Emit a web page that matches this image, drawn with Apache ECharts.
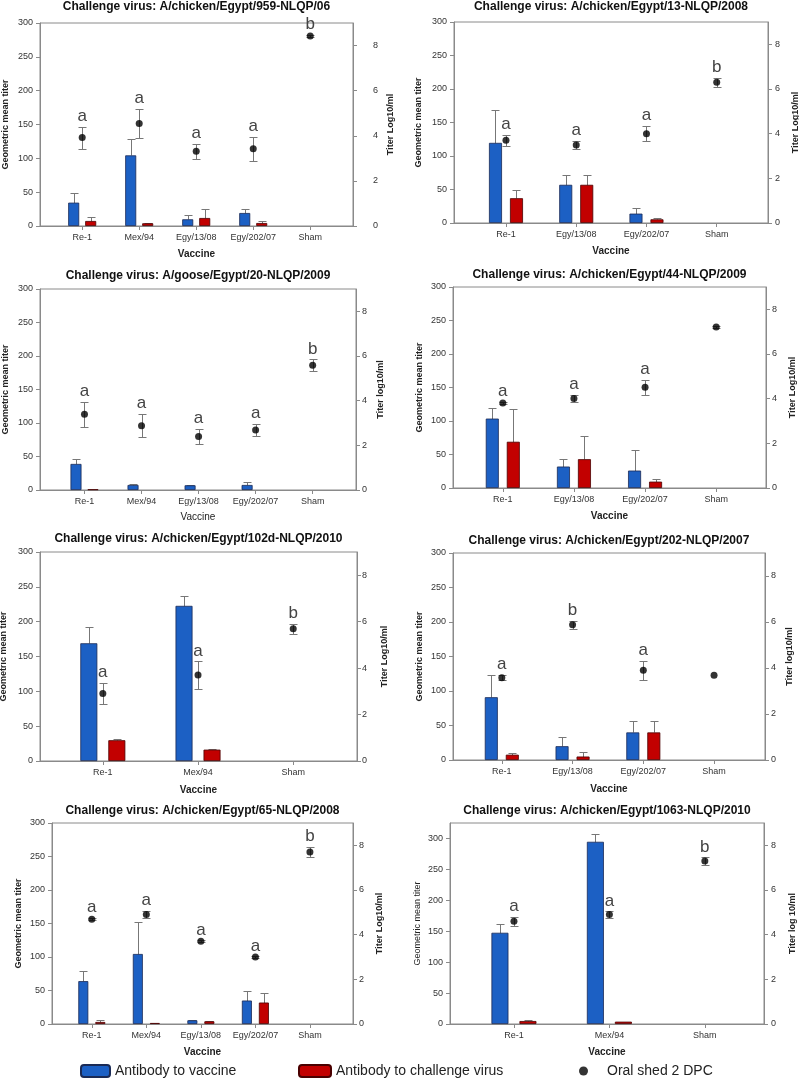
<!DOCTYPE html>
<html><head><meta charset="utf-8">
<script src="https://cdn.jsdelivr.net/npm/echarts@6/dist/echarts.min.js"></script>
<style>html,body{margin:0;padding:0;background:#fff}#c{width:799px;height:1081px}</style>
</head><body><div id="c"></div>
<script>
// ---------------- DATA ----------------
const leftTicks = [0, 50, 100, 150, 200, 250, 300];
const rightTicks = [0, 2, 4, 6, 8];
const legendNames = ['Antibody to vaccine', 'Antibody to challenge virus', 'Oral shed 2 DPC'];

const p1Title = 'Challenge virus: A/chicken/Egypt/959-NLQP/06';
const p1Categories = ['Re-1', 'Mex/94', 'Egy/13/08', 'Egy/202/07', 'Sham'];
const p1Vaccine = [34.5, 104.4, 9.9, 19.2, 0];
const p1VaccineErr = [14.5, 24.6, 5.9, 6.4, 0];
const p1Challenge = [7.4, 4, 11.8, 4.4, 0];
const p1ChallengeErr = [5.9, 1, 13.8, 2.5, 0];
const p1Shed = [3.92, 4.54, 3.31, 3.42, 8.42];
const p1ShedErr = [0.49, 0.64, 0.34, 0.52, 0.05];
const p1Letters = ['a', 'a', 'a', 'a', 'b'];

const p2Title = 'Challenge virus: A/chicken/Egypt/13-NLQP/2008';
const p2Categories = ['Re-1', 'Egy/13/08', 'Egy/202/07', 'Sham'];
const p2Vaccine = [119.6, 57, 14, 0];
const p2VaccineErr = [48.4, 14, 8, 0];
const p2Challenge = [37, 57, 5.5, 0];
const p2ChallengeErr = [12, 14, 1.5, 0];
const p2Shed = [3.70, 3.49, 4.00, 6.30];
const p2ShedErr = [0.25, 0.18, 0.35, 0.21];
const p2Letters = ['a', 'a', 'a', 'b'];

const p3Title = 'Challenge virus: A/goose/Egypt/20-NLQP/2009';
const p3Categories = ['Re-1', 'Mex/94', 'Egy/13/08', 'Egy/202/07', 'Sham'];
const p3Vaccine = [38.9, 7.5, 7, 7.5, 0];
const p3VaccineErr = [6.9, 1, 0.5, 4, 0];
const p3Challenge = [1, 0, 0, 0, 0];
const p3ChallengeErr = [0, 0, 0, 0, 0];
const p3Shed = [3.39, 2.88, 2.39, 2.69, 5.59];
const p3ShedErr = [0.55, 0.52, 0.34, 0.28, 0.26];
const p3Letters = ['a', 'a', 'a', 'a', 'b'];

const p4Title = 'Challenge virus: A/chicken/Egypt/44-NLQP/2009';
const p4Categories = ['Re-1', 'Egy/13/08', 'Egy/202/07', 'Sham'];
const p4Vaccine = [103.6, 32, 26, 0];
const p4VaccineErr = [16, 12, 30, 0];
const p4Challenge = [69, 43, 9.5, 0];
const p4ChallengeErr = [49, 35, 4.5, 0];
const p4Shed = [3.81, 4.01, 4.51, 7.21];
const p4ShedErr = [0.06, 0.17, 0.34, 0.05];
const p4Letters = ['a', 'a', 'a', ''];

const p5Title = 'Challenge virus: A/chicken/Egypt/102d-NLQP/2010';
const p5Categories = ['Re-1', 'Mex/94', 'Sham'];
const p5Vaccine = [169, 222.7, 0];
const p5VaccineErr = [24, 14.3, 0];
const p5Challenge = [29.8, 16.3, 0];
const p5ChallengeErr = [2.2, 0.7, 0];
const p5Shed = [2.91, 3.70, 5.69];
const p5ShedErr = [0.45, 0.59, 0.21];
const p5Letters = ['a', 'a', 'b'];

const p6Title = 'Challenge virus: A/chicken/Egypt/202-NLQP/2007';
const p6Categories = ['Re-1', 'Egy/13/08', 'Egy/202/07', 'Sham'];
const p6Vaccine = [91, 20, 40, 0];
const p6VaccineErr = [32, 14, 17, 0];
const p6Challenge = [7.7, 5, 40, 0];
const p6ChallengeErr = [2.3, 7, 17, 0];
const p6Shed = [3.58, 5.88, 3.90, 3.68];
const p6ShedErr = [0.12, 0.17, 0.40, 0];
const p6Letters = ['a', 'b', 'a', ''];

const p7Title = 'Challenge virus: A/chicken/Egypt/65-NLQP/2008';
const p7Categories = ['Re-1', 'Mex/94', 'Egy/13/08', 'Egy/202/07', 'Sham'];
const p7Vaccine = [64, 104.5, 5.5, 35, 0];
const p7VaccineErr = [14.6, 47.5, 0.3, 14, 0];
const p7Challenge = [3, 1.5, 4, 32, 0];
const p7ChallengeErr = [3, 0, 1, 14, 0];
const p7Shed = [4.69, 4.90, 3.70, 3.00, 7.70];
const p7ShedErr = [0.05, 0.15, 0.04, 0.03, 0.22];
const p7Letters = ['a', 'a', 'a', 'a', 'b'];

const p8Title = 'Challenge virus: A/chicken/Egypt/1063-NLQP/2010';
const p8Categories = ['Re-1', 'Mex/94', 'Sham'];
const p8Vaccine = [147.5, 294.6, 0];
const p8VaccineErr = [13.5, 13.4, 0];
const p8Challenge = [4.8, 3.8, 0];
const p8ChallengeErr = [1.7, 0, 0];
const p8Shed = [4.60, 4.90, 7.30];
const p8ShedErr = [0.19, 0.14, 0.16];
const p8Letters = ['a', 'a', 'b'];

// ---------------- PANEL SETUP (layout/style) ----------------
const FONT = '"Liberation Sans", Arial, sans-serif';
const AXIS = '#8a8a8a';
const LABEL = '#333';
const ERR = '#777';
const BLUE = '#1c60c4';
const RED = '#c20000';

const panels = [
  {title: p1Title, cats: p1Categories, vac: p1Vaccine, vacErr: p1VaccineErr, ch: p1Challenge, chErr: p1ChallengeErr, shed: p1Shed, shedErr: p1ShedErr, letters: p1Letters,
   leftMax: 300, leftName: 'Geometric mean titer', leftBold: true, rightName: 'Titer Log10/ml', xBold: true,
   L: {left: 40, top: 23, width: 313, height: 203, padL: 0.74, padR: 0.75, rM: 20, rNG: 33, lNG: 30, xNG: 23, bw: 11, gap: 6, ty: 7}},
  {title: p2Title, cats: p2Categories, vac: p2Vaccine, vacErr: p2VaccineErr, ch: p2Challenge, chErr: p2ChallengeErr, shed: p2Shed, shedErr: p2ShedErr, letters: p2Letters,
   leftMax: 300, leftName: 'Geometric mean titer', leftBold: true, rightName: 'Titer Log10/ml', xBold: true,
   L: {left: 454, top: 22, width: 314, height: 201, padL: 0.74, padR: 0.73, rM: 7, rNG: 23, lNG: 31, xNG: 23, bw: 13, gap: 8, ty: 7}},
  {title: p3Title, cats: p3Categories, vac: p3Vaccine, vacErr: p3VaccineErr, ch: p3Challenge, chErr: p3ChallengeErr, shed: p3Shed, shedErr: p3ShedErr, letters: p3Letters,
   leftMax: 300, leftName: 'Geometric mean titer', leftBold: true, rightName: 'Titer log10/ml', xBold: false,
   L: {left: 40, top: 289, width: 316, height: 201, padL: 0.78, padR: 0.76, rM: 6, rNG: 20, lNG: 30, xNG: 22, bw: 11, gap: 6, ty: 276}},
  {title: p4Title, cats: p4Categories, vac: p4Vaccine, vacErr: p4VaccineErr, ch: p4Challenge, chErr: p4ChallengeErr, shed: p4Shed, shedErr: p4ShedErr, letters: p4Letters,
   leftMax: 300, leftName: 'Geometric mean titer', leftBold: true, rightName: 'Titer Log10/ml', xBold: true,
   L: {left: 453, top: 287, width: 313, height: 201, padL: 0.70, padR: 0.70, rM: 6, rNG: 22, lNG: 29, xNG: 23, bw: 13, gap: 8, ty: 275}},
  {title: p5Title, cats: p5Categories, vac: p5Vaccine, vacErr: p5VaccineErr, ch: p5Challenge, chErr: p5ChallengeErr, shed: p5Shed, shedErr: p5ShedErr, letters: p5Letters,
   leftMax: 300, leftName: 'Geometric mean titer', leftBold: true, rightName: 'Titer Log10/ml', xBold: true,
   L: {left: 40, top: 552, width: 317, height: 209, padL: 0.66, padR: 0.67, rM: 5, rNG: 23, lNG: 32, xNG: 24, bw: 17, gap: 11, ty: 539}},
  {title: p6Title, cats: p6Categories, vac: p6Vaccine, vacErr: p6VaccineErr, ch: p6Challenge, chErr: p6ChallengeErr, shed: p6Shed, shedErr: p6ShedErr, letters: p6Letters,
   leftMax: 300, leftName: 'Geometric mean titer', leftBold: true, rightName: 'Titer log10/ml', xBold: true,
   L: {left: 453, top: 553, width: 312, height: 207, padL: 0.69, padR: 0.72, rM: 6, rNG: 20, lNG: 29, xNG: 24, bw: 13, gap: 8, ty: 541}},
  {title: p7Title, cats: p7Categories, vac: p7Vaccine, vacErr: p7VaccineErr, ch: p7Challenge, chErr: p7ChallengeErr, shed: p7Shed, shedErr: p7ShedErr, letters: p7Letters,
   leftMax: 300, leftName: 'Geometric mean titer', leftBold: true, rightName: 'Titer Log10/ml', xBold: true,
   L: {left: 52, top: 823, width: 301, height: 201, padL: 0.73, padR: 0.79, rM: 6, rNG: 22, lNG: 29, xNG: 23, bw: 10, gap: 7, ty: 811}},
  {title: p8Title, cats: p8Categories, vac: p8Vaccine, vacErr: p8VaccineErr, ch: p8Challenge, chErr: p8ChallengeErr, shed: p8Shed, shedErr: p8ShedErr, letters: p8Letters,
   leftMax: 325, leftName: 'Geometric mean titer', leftBold: false, rightName: 'Titer log 10/ml', xBold: true,
   L: {left: 450, top: 823, width: 314, height: 201, padL: 0.67, padR: 0.62, rM: 7, rNG: 24, lNG: 28, xNG: 23, bw: 17, gap: 11, ty: 811}}
];

function errRender(offset, both) {
  const cap = 8;
  return function (params, api) {
    const x = api.value(0), v = api.value(1), e = api.value(2);
    const c = api.coord([x, v]);
    const t = api.coord([x, v + e]);
    const b = both ? api.coord([x, v - e]) : c;
    const cx = Math.round(c[0] + offset) + 0.5;
    const ty = Math.round(t[1]) + 0.5, by = Math.round(b[1]) + 0.5;
    const ch = [
      {type: 'line', shape: {x1: cx, y1: by, x2: cx, y2: ty}, style: {stroke: ERR, lineWidth: 1}},
      {type: 'line', shape: {x1: cx - cap / 2, y1: ty, x2: cx + cap / 2, y2: ty}, style: {stroke: ERR, lineWidth: 1}}
    ];
    if (both) ch.push({type: 'line', shape: {x1: cx - cap / 2, y1: by, x2: cx + cap / 2, y2: by}, style: {stroke: ERR, lineWidth: 1}});
    return {type: 'group', children: ch};
  };
}

const option = {
  animation: false,
  backgroundColor: '#fff',
  textStyle: {fontFamily: FONT},
  title: [], grid: [], xAxis: [], yAxis: [], series: [],
  legend: [
    {data: [legendNames[0]], left: 80, top: 1064, padding: 0, itemWidth: 29, itemHeight: 12, itemGap: 6,
     textStyle: {fontSize: 14, color: '#222', fontFamily: FONT}},
    {data: [legendNames[1]], left: 298, top: 1064, padding: 0, itemWidth: 32, itemHeight: 12,
     textStyle: {fontSize: 14, color: '#222', fontFamily: FONT}},
    {data: [legendNames[2]], left: 579, top: 1064, padding: 0, itemWidth: 9, itemHeight: 9, icon: 'circle',
     textStyle: {fontSize: 14, color: '#222', fontFamily: FONT, padding: [0, 0, 0, 14]}}
  ]
};

panels.forEach((p, i) => {
  const L = p.L;
  const n = p.cats.length;
  const idx = p.cats.map((c, k) => k);
  option.title.push({
    text: p.title, left: L.left + L.width / 2, top: Math.max(1, L.ty - 6), textAlign: 'center', padding: 0,
    textStyle: {fontSize: 12, fontWeight: 'bold', color: '#111', fontFamily: FONT}
  });
  option.grid.push({left: L.left, top: L.top, width: L.width, height: L.height, show: true,
    borderColor: AXIS, borderWidth: 1, containLabel: false, outerBoundsMode: 'none'});
  option.xAxis.push({
    type: 'value', gridIndex: i, min: -L.padL, max: n - 1 + L.padR,
    name: 'Vaccine', nameLocation: 'middle', nameGap: L.xNG,
    nameTextStyle: {fontSize: 10, fontWeight: p.xBold ? 'bold' : 'normal', color: '#222'},
    axisLine: {show: true, onZero: false, lineStyle: {color: AXIS}},
    axisTick: {show: true, customValues: idx, length: 4, lineStyle: {color: AXIS}},
    axisLabel: {customValues: idx, formatter: v => p.cats[Math.round(v)] || '', margin: 7, fontSize: 9, color: LABEL},
    splitLine: {show: false}
  });
  option.yAxis.push({
    type: 'value', gridIndex: i, position: 'left', min: 0, max: p.leftMax,
    name: p.leftName, nameLocation: 'middle', nameRotate: 90, nameGap: L.lNG,
    nameTextStyle: {fontSize: 9, fontWeight: p.leftBold ? 'bold' : 'normal', color: '#222'},
    axisLine: {show: true, onZero: false, lineStyle: {color: AXIS}},
    axisTick: {show: true, customValues: leftTicks, length: 4, lineStyle: {color: AXIS}},
    axisLabel: {customValues: leftTicks, margin: 7, fontSize: 9, color: LABEL},
    splitLine: {show: false}
  });
  option.yAxis.push({
    type: 'value', gridIndex: i, position: 'right', min: 0, max: 9,
    name: p.rightName, nameLocation: 'middle', nameRotate: 90, nameGap: L.rNG,
    nameTextStyle: {fontSize: 9, fontWeight: 'bold', color: '#222'},
    axisLine: {show: true, onZero: false, lineStyle: {color: AXIS}},
    axisTick: {show: true, customValues: rightTicks, length: 4, lineStyle: {color: AXIS}},
    axisLabel: {customValues: rightTicks, margin: L.rM, fontSize: 9, color: LABEL},
    splitLine: {show: false}
  });
  const yL = 2 * i, yR = 2 * i + 1;
  const barGap = (L.gap / L.bw * 100) + '%';
  const off = (L.bw + L.gap) / 2;
  option.series.push({
    name: legendNames[0], type: 'bar', xAxisIndex: i, yAxisIndex: yL, barWidth: L.bw, barGap: barGap,
    itemStyle: {color: BLUE, borderColor: '#1a2a55', borderWidth: 0.8},
    data: idx.filter(k => p.vac[k] > 0).map(k => [k, p.vac[k]]), z: 3
  });
  option.series.push({
    name: legendNames[1], type: 'bar', xAxisIndex: i, yAxisIndex: yL, barWidth: L.bw, barGap: barGap,
    itemStyle: {color: RED, borderColor: '#4a0000', borderWidth: 0.8},
    data: idx.filter(k => p.ch[k] > 0).map(k => [k, p.ch[k]]), z: 3
  });
  option.series.push({
    type: 'custom', xAxisIndex: i, yAxisIndex: yL, silent: true, z: 2,
    renderItem: errRender(-off, false),
    data: idx.filter(k => p.vacErr[k] > 0).map(k => [k, p.vac[k], p.vacErr[k]])
  });
  option.series.push({
    type: 'custom', xAxisIndex: i, yAxisIndex: yL, silent: true, z: 2,
    renderItem: errRender(off, false),
    data: idx.filter(k => p.chErr[k] > 0).map(k => [k, p.ch[k], p.chErr[k]])
  });
  option.series.push({
    type: 'custom', xAxisIndex: i, yAxisIndex: yR, silent: true, z: 4,
    renderItem: errRender(0, true),
    data: idx.filter(k => p.shedErr[k] > 0).map(k => [k, p.shed[k], p.shedErr[k]])
  });
  option.series.push({
    name: legendNames[2], type: 'scatter', xAxisIndex: i, yAxisIndex: yR, symbol: 'circle', symbolSize: 7,
    itemStyle: {color: '#000'}, z: 5,
    data: idx.map(k => [k, p.shed[k]])
  });
  option.series.push({
    type: 'custom', xAxisIndex: i, yAxisIndex: yR, silent: true, z: 5,
    renderItem: function (params, api) {
      const k = api.value(0);
      const pt = api.coord([k, api.value(1)]);
      return {type: 'text', x: pt[0], y: pt[1] - 2,
        style: {text: p.letters[k], fill: '#444', fontSize: 17, fontFamily: FONT, align: 'center', verticalAlign: 'bottom'}};
    },
    data: idx.filter(k => p.letters[k]).map(k => [k, p.shed[k] + p.shedErr[k]])
  });
});

const chart = echarts.init(document.getElementById('c'), null, {renderer: 'canvas'});
chart.setOption(option);
</script>
</body></html>
